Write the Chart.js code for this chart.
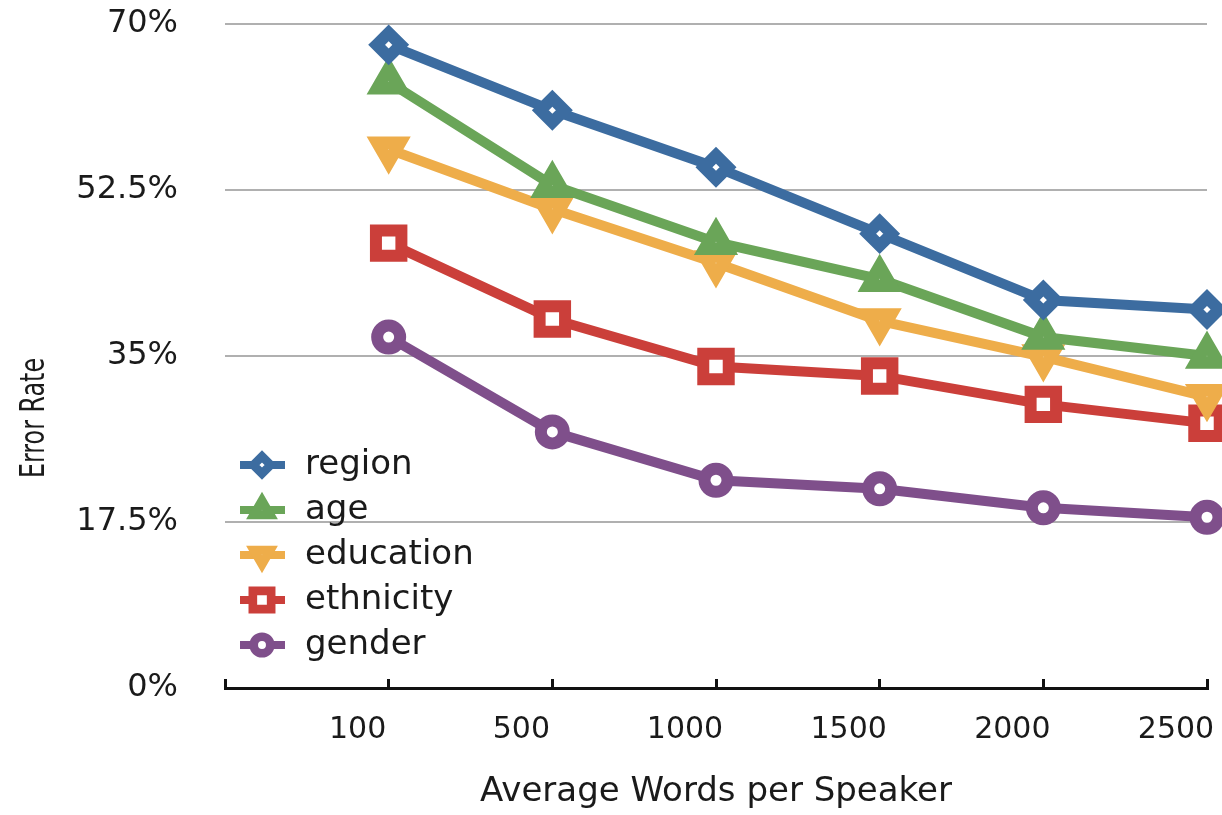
<!DOCTYPE html>
<html>
<head>
<meta charset="utf-8">
<title>Error Rate vs Average Words per Speaker</title>
<script src="https://cdn.jsdelivr.net/npm/chart.js@4.4.1/dist/chart.umd.min.js"></script>
<style>
  html, body { margin: 0; padding: 0; background: #fff; }
  #wrap { width: 1222px; height: 815px; }
</style>
</head>
<body>
<div id="wrap"><canvas id="errorChart" width="1222" height="815"></canvas></div>
<script>
// x categories (average words per speaker)
const wordCounts = ["100", "500", "1000", "1500", "2000", "2500"];

// error rate in %
const region    = [67.8, 60.9, 54.9, 47.9, 40.9, 39.9];
const age       = [63.9, 53.0, 47.0, 43.1, 37.0, 35.0];
const education = [56.8, 50.5, 44.8, 38.7, 34.9, 30.7];
const ethnicity = [46.9, 38.9, 33.9, 32.9, 29.9, 27.9];
const gender    = [37.0, 27.0, 21.9, 21.0, 19.0, 18.0];

// y ticks
const yTicks = [0, 17.5, 35, 52.5, 70];

const FONT = '"DejaVu Sans", "Liberation Sans", sans-serif';

// category i sits at x = i + 1, slot 0 is the empty start of the axis
function toPoints(values) {
  return values.map(function (v, i) {
    return { x: i + 1, y: v };
  });
}

function makeSet(label, values, color, style, radius, bw, rotation) {
  return {
    label: label,
    data: toPoints(values),
    borderColor: color,
    backgroundColor: color,
    borderWidth: 10,
    tension: 0,
    fill: false,
    clip: false,
    pointStyle: style,
    pointRadius: radius,
    pointHoverRadius: radius,
    pointBorderWidth: bw,
    pointHoverBorderWidth: bw,
    pointRotation: rotation || 0,
    pointBackgroundColor: "#ffffff",
    pointBorderColor: color,
  };
}

const datasets = [
  makeSet("region", region, "#3C6CA0", "rectRot", 12, 12),
  makeSet("age", age, "#6AA558", "triangle", 13, 12.5),
  makeSet("education", education, "#EEAD4A", "triangle", 13, 12.5, 180),
  makeSet("ethnicity", ethnicity, "#CB3F3A", "rect", 18, 12),
  makeSet("gender", gender, "#7F4F8B", "circle", 11.5, 12),
];

// legend drawn inside the plot area, bottom left
const innerLegend = {
  id: "innerLegend",
  afterDraw: function (chart) {
    const ctx = chart.ctx;
    const area = chart.chartArea;
    const x0 = area.left + 15;
    const startY = area.bottom - 223;
    ctx.save();
    chart.data.datasets.forEach(function (ds, i) {
      const y = startY + i * 45;
      ctx.strokeStyle = ds.borderColor;
      ctx.lineWidth = 8;
      ctx.beginPath();
      ctx.moveTo(x0, y);
      ctx.lineTo(x0 + 45, y);
      ctx.stroke();

      ctx.fillStyle = "#ffffff";
      ctx.strokeStyle = ds.borderColor;
      ctx.lineWidth = ds.pointBorderWidth * 0.72;
      Chart.helpers.drawPoint(ctx, {
        pointStyle: ds.pointStyle,
        rotation: ds.pointRotation,
        radius: ds.pointRadius * 0.72,
        borderWidth: ds.pointBorderWidth * 0.72,
      }, x0 + 22, y);

      ctx.fillStyle = "#1a1a1a";
      ctx.font = "34px " + FONT;
      ctx.textAlign = "left";
      ctx.textBaseline = "middle";
      ctx.fillText(ds.label, x0 + 65, y);
    });
    ctx.restore();
  },
};

// y title sits a bit below the axis middle in the original
const yTitle = {
  id: "yTitle",
  afterDraw: function (chart) {
    const ctx = chart.ctx;
    ctx.save();
    ctx.translate(35, chart.chartArea.top + 394);
    ctx.rotate(-Math.PI / 2);
    ctx.scale(0.7, 1);
    ctx.font = "34px " + FONT;
    ctx.fillStyle = "#1a1a1a";
    ctx.textAlign = "center";
    ctx.textBaseline = "middle";
    ctx.fillText("Error Rate", 0, 0);
    ctx.restore();
  },
};

const ctx = document.getElementById("errorChart").getContext("2d");
const errorChart = new Chart(ctx, {
  type: "line",
  data: { datasets: datasets },
  options: {
    responsive: false,
    animation: false,
    events: [],
    layout: {
      autoPadding: false,
      padding: { top: 24, right: 15, left: 0, bottom: 0 },
    },
    plugins: {
      legend: { display: false },
      tooltip: { enabled: false },
    },
    scales: {
      x: {
        type: "linear",
        min: 0,
        max: wordCounts.length,
        afterBuildTicks: function (scale) {
          const ticks = [{ value: 0 }];
          wordCounts.forEach(function (c, i) {
            ticks.push({ value: i + 1 });
          });
          scale.ticks = ticks;
        },
        afterFit: function (scale) {
          scale.height = 127;
          scale.paddingLeft = 0;
          scale.paddingRight = 0;
        },
        grid: {
          display: true,
          drawOnChartArea: false,
          drawTicks: true,
          tickLength: -9,
          tickWidth: 3,
          tickColor: "#111111",
        },
        border: { display: true, color: "#111111", width: 3 },
        ticks: {
          autoSkip: false,
          maxRotation: 0,
          padding: 33,
          labelOffset: -31,
          color: "#1a1a1a",
          font: { family: FONT, size: 30 },
          callback: function (value) {
            return wordCounts[value - 1] || "";
          },
        },
        title: {
          display: true,
          text: "Average Words per Speaker",
          color: "#1a1a1a",
          font: { family: FONT, size: 34 },
          padding: { top: 0, bottom: 2 },
        },
      },
      y: {
        min: 0,
        max: 70,
        afterBuildTicks: function (scale) {
          scale.ticks = yTicks.map(function (v) {
            return { value: v };
          });
        },
        afterFit: function (scale) {
          scale.width = 225;
          scale.paddingTop = 0;
          scale.paddingBottom = 0;
        },
        grid: {
          drawTicks: false,
          lineWidth: 2,
          color: function (c) {
            return c.tick && c.tick.value === 0 ? "rgba(0,0,0,0)" : "#b0b0b0";
          },
        },
        border: { display: false },
        ticks: {
          padding: 47,
          color: "#1a1a1a",
          font: { family: FONT, size: 32 },
          callback: function (value) {
            return value + "%";
          },
        },
      },
    },
  },
  plugins: [innerLegend, yTitle],
});
</script>
</body>
</html>
